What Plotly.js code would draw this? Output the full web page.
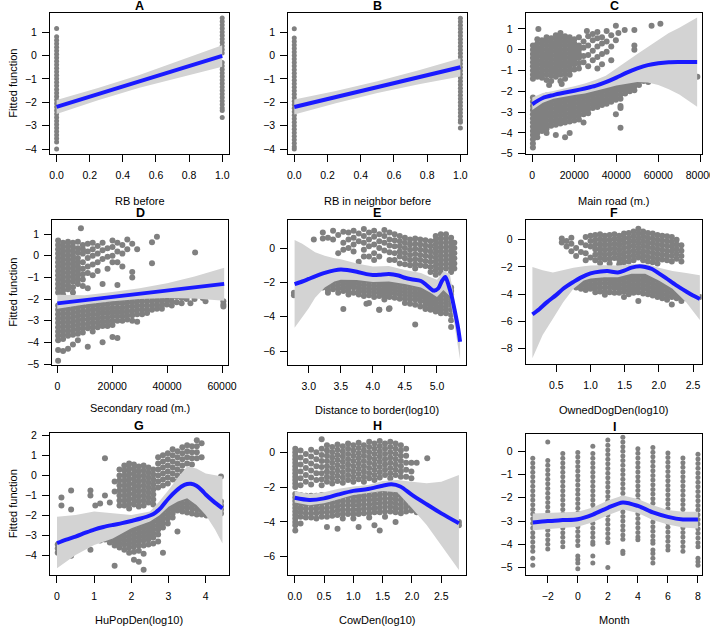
<!DOCTYPE html>
<html><head><meta charset="utf-8">
<script src="https://cdn.plot.ly/plotly-3.0.1.min.js"></script>
<style>html,body{margin:0;padding:0;background:#fff}#g{width:710px;height:628px}</style>
</head><body><div id="g"></div>
<script>
// ---------- DATA ----------
// Panel A: RB before (points at 0 and 1)
const A_y0 = [1.15,0.8,0.65,0.5,0.35,0.2,0.05,-0.1,-0.25,-0.4,-0.55,-0.7,-0.85,-1.0,-1.15,-1.3,-1.45,-1.6,-1.75,-1.9,-2.05,-2.2,-2.35,-2.5,-2.65,-2.8,-2.95,-3.1,-3.25,-3.4,-3.55,-3.7,-4.0];
const A_y1 = [1.6,1.45,1.3,1.15,1.0,0.85,0.7,0.55,0.4,0.25,0.1,-0.3,-0.45,-0.6,-0.75,-0.9,-1.05,-1.2,-1.35,-1.5,-1.65,-1.8,-1.95,-2.1,-2.25,-2.35,-2.65];
const A_lineX = [0,1], A_lineY = [-2.2,-0.02];
const A_bandX = [0,0.25,0.5,0.75,1], A_bandLo = [-2.5,-1.915,-1.38,-0.915,-0.48], A_bandHi = [-1.9,-1.395,-0.84,-0.215,0.44];

// Panel B: RB in neighbor before
const B_y0 = [1.15,0.75,0.6,0.45,0.3,0.15,0.0,-0.15,-0.3,-0.45,-0.6,-0.75,-0.9,-1.05,-1.2,-1.35,-1.5,-1.65,-1.8,-1.95,-2.1,-2.25,-2.4,-2.55,-2.7,-2.85,-3.0,-3.15,-3.3,-3.45,-3.6,-3.75,-3.9,-4.0];
const B_y1 = [1.6,1.45,1.3,1.15,1.0,0.85,0.7,0.55,0.4,0.25,0.1,-0.05,-0.2,-0.35,-0.5,-0.65,-0.8,-0.95,-1.1,-1.25,-1.4,-1.55,-1.7,-1.85,-2.0,-2.15,-2.3,-2.45,-2.6,-2.75,-2.85,-3.1];
const B_lineX = [0,1], B_lineY = [-2.2,-0.5];
const B_bandX = [0,0.25,0.5,0.75,1], B_bandLo = [-2.52,-2.035,-1.6,-1.225,-0.89], B_bandHi = [-1.88,-1.515,-1.1,-0.625,-0.11];

// Panel C: Main road (m.)  x in thousands of metres
const C_colX = [0.3,2.4,4.6,6.8,9.0,11.2,13.4,15.6,17.8,20.0,22.2,24.4,26.6,28.8,31.0,33.2,35.4,37.6,39.8,42.0,44.2,46.4,48.6,50.8,53.0,55.2,57.4];
const C_colY = [
[0.2,0,-0.2,-0.4,-0.6,-0.8,-1.0,-1.2,-1.4,-2.3,-2.5,-2.7,-2.9,-3.1,-3.3,-3.5,-3.7,-3.9,-4.1,-4.3,-4.5,-4.7],
[0.5,0.3,0.1,-0.1,-0.3,-0.5,-0.7,-0.9,-1.1,-1.3,-2.4,-2.6,-2.8,-3.0,-3.2,-3.4,-3.6,-3.8,-4.0,-4.2],
[0.45,0.25,0.05,-0.15,-0.35,-0.55,-0.75,-0.95,-1.15,-1.35,-2.3,-2.5,-2.7,-2.9,-3.1,-3.3,-3.5,-3.7,-3.9],
[0.6,0.4,0.2,0,-0.2,-0.4,-0.6,-0.8,-1.0,-1.2,-1.45,-2.2,-2.4,-2.6,-2.8,-3.0,-3.2,-3.4,-3.6,-3.8,-4.0],
[0.55,0.35,0.15,-0.05,-0.25,-0.45,-0.65,-0.85,-1.05,-1.25,-1.5,-2.25,-2.45,-2.65,-2.85,-3.05,-3.25,-3.45,-3.65],
[0.7,0.5,0.3,0.1,-0.1,-0.3,-0.5,-0.7,-0.9,-1.1,-1.3,-2.2,-2.4,-2.6,-2.8,-3.0,-3.2,-3.4,-3.6,-4.1],
[0.8,0.6,0.4,0.2,0,-0.2,-0.4,-0.6,-0.8,-1.0,-1.2,-1.5,-2.15,-2.35,-2.55,-2.75,-2.95,-3.15,-3.35,-3.55],
[0.65,0.45,0.25,0.05,-0.15,-0.35,-0.55,-0.75,-0.95,-1.15,-1.4,-2.1,-2.3,-2.5,-2.7,-2.9,-3.1,-3.3,-3.5,-4.2],
[0.6,0.4,0.2,0,-0.2,-0.4,-0.6,-0.8,-1.0,-1.2,-2.05,-2.25,-2.45,-2.65,-2.85,-3.05,-3.25,-3.45,-4.0],
[0.5,0.3,0.1,-0.1,-0.3,-0.5,-0.7,-0.95,-2.0,-2.2,-2.4,-2.6,-2.8,-3.0,-3.2,-3.4],
[0.6,0.2,0,-0.2,-0.4,-0.65,-0.9,-1.95,-2.15,-2.35,-2.55,-2.75,-2.95,-3.15,-3.35],
[0.4,0.1,-0.3,-0.6,-1.9,-2.1,-2.3,-2.5,-2.7,-2.9,-3.1,-3.5],
[0.65,0.2,-0.25,-0.8,-1.85,-2.05,-2.25,-2.45,-2.65,-2.85,-3.05],
[0.75,0.45,-0.05,-0.5,-1.8,-2.0,-2.2,-2.4,-2.6,-2.8],
[0.85,0.55,0.15,-0.35,-0.9,-1.75,-1.95,-2.15,-2.35,-2.55,-2.75],
[0.6,0.3,-0.2,-0.7,-1.65,-1.85,-2.05,-2.25,-2.45,-2.65],
[0.9,0.4,-0.1,-1.6,-1.8,-2.0,-2.2,-2.4,-2.6],
[0.7,0.15,-0.5,-1.5,-1.7,-1.9,-2.1,-2.3,-2.5],
[1.15,0.45,-1.4,-1.6,-1.8,-2.0,-2.2,-2.4,-3.1],
[-1.35,-1.55,-1.75,-1.95,-2.15,-2.35,-2.7,-2.8,-3.75],
[-1.3,-1.5,-1.7,-1.9,-2.1],
[-1.2,-1.4,-1.6,-1.8,-2.0],
[0.95,0.2,0.0,-1.15,-1.35,-1.55,-1.75,-1.95],
[-1.1,-1.3,-1.5,-1.7],
[-1.1,-1.3,-1.5],
[-1.15,-1.35,-1.55],
[-1.2,-1.45]];
const C_extra = [2.9,1.0, 56.8,1.15, 61,1.25, 60.5,-1.45, 62.5,-0.9, 64,-1.45, 72.8,0.4, 72.8,0.02, 75.5,-1.6, 78.6,-1.3, 26,0.9, 44,0.95, 41,0.8, 14,-1.65, 8,-1.7];
const C_lineX = [0,5,10,15,20,25,30,35,40,45,50,55,60,65,70,78.5];
const C_lineY = [-2.62,-2.32,-2.18,-2.07,-1.97,-1.86,-1.74,-1.56,-1.34,-1.1,-0.9,-0.74,-0.65,-0.6,-0.59,-0.59];
const C_bandLo = [-2.9,-2.55,-2.36,-2.25,-2.17,-2.1,-1.98,-1.85,-1.72,-1.62,-1.55,-1.58,-1.7,-1.9,-2.15,-2.74];
const C_bandHi = [-2.3,-2.08,-1.98,-1.88,-1.76,-1.62,-1.46,-1.25,-0.92,-0.55,-0.2,0.15,0.47,0.8,1.05,1.55];

// Panel D: Secondary road (m.)  x in thousands of metres
const D_colX = [0.3,2.1,3.9,5.7,7.5,9.3,11.1,12.9,14.7,16.5,18.3,20.1,21.9,23.7,25.5,27.3,29.1,30.9,32.7,34.5,36.3,38.1,39.9,41.7,43.5,45.3,47.1];
const D_colY = [
[0.7,0.5,0.3,0.1,-0.1,-0.3,-0.5,-0.7,-0.9,-1.1,-1.3,-1.5,-1.7,-2.3,-2.5,-2.7,-2.9,-3.1,-3.3,-3.5,-3.7,-3.9,-4.35,-4.85],
[0.6,0.4,0.2,0,-0.2,-0.4,-0.6,-0.8,-1.0,-1.2,-1.4,-1.6,-1.8,-2.25,-2.45,-2.65,-2.85,-3.05,-3.25,-3.45,-3.65,-3.85,-4.4],
[0.65,0.45,0.25,0.05,-0.15,-0.35,-0.55,-0.75,-0.95,-1.15,-1.35,-1.55,-2.3,-2.5,-2.7,-2.9,-3.1,-3.3,-3.5,-3.7,-4.3],
[0.6,0.4,0.2,0,-0.2,-0.4,-0.6,-0.8,-1.0,-1.2,-1.45,-1.7,-2.25,-2.45,-2.65,-2.85,-3.05,-3.25,-3.45,-3.65,-4.1],
[0.65,0.35,0.15,-0.1,-0.3,-0.5,-0.7,-0.9,-1.1,-1.3,-2.2,-2.4,-2.6,-2.8,-3.0,-3.2,-3.4,-3.6,-3.9],
[0.5,0.3,0.1,-0.3,-0.6,-0.85,-1.1,-1.4,-2.15,-2.35,-2.55,-2.75,-2.95,-3.15,-3.35,-3.55],
[0.55,0.2,-0.1,-0.5,-0.8,-1.5,-2.15,-2.35,-2.55,-2.75,-2.95,-3.15,-3.35,-4.2],
[0.6,0.3,0,-0.4,-0.9,-2.1,-2.3,-2.5,-2.7,-2.9,-3.1,-3.3,-3.5],
[0.45,0.1,-0.3,-0.7,-2.1,-2.3,-2.5,-2.7,-2.9,-3.1,-3.3],
[0.6,0.25,-0.15,-1.3,-2.05,-2.25,-2.45,-2.65,-2.85,-3.05,-3.25,-4.0],
[0.35,-0.05,-0.6,-2.05,-2.25,-2.45,-2.65,-2.85,-3.05,-3.25],
[0.7,0.4,0.0,-0.3,-2.0,-2.2,-2.4,-2.6,-2.8,-3.0,-3.2,-3.75],
[0.6,0.2,-0.3,-1.35,-2.0,-2.2,-2.4,-2.6,-2.8,-3.0,-3.8],
[0.5,0.1,-0.5,-2.0,-2.2,-2.4,-2.6,-2.8,-3.0],
[0.75,0.3,-1.95,-2.15,-2.35,-2.55,-2.75,-2.95],
[0.55,-0.75,-1.0,-1.95,-2.15,-2.35,-2.55,-2.75,-3.0],
[0.3,-1.9,-2.1,-2.3,-2.5,-2.7,-3.05],
[-1.9,-2.1,-2.3,-2.5,-2.7],
[-1.9,-2.1,-2.3,-2.5,-2.65],
[0.62,-0.35,-1.9,-2.1,-2.3,-2.5],
[0.88,-1.85,-2.05,-2.25,-2.45],
[-1.9,-2.1,-2.3,-2.45],
[-1.85,-2.05,-2.25],
[-1.9,-2.1,-2.3],
[-1.9,-2.15],
[-1.95,-2.2],
[-2.0]];
const D_extra = [8.6,1.27, 50.2,0.15, 50,-2.0, 53,-1.95, 54,-2.1, 60.5,-2.1, 60.5,-2.25, 60.5,-2.35, 58,-1.85, 48.5,-2.2];
const D_lineX = [0,60.8], D_lineY = [-2.2,-1.3];
const D_bandX = [0,10,20,30,40,50,60.8];
const D_bandLo = [-2.45,-2.25,-2.1,-2.0,-1.95,-1.98,-2.08];
const D_bandHi = [-1.8,-1.82,-1.68,-1.5,-1.27,-0.96,-0.55];

// Panel E: Distance to border(log10)
const E_colX = [3.22,3.30,3.38,3.46,3.54,3.62,3.70,3.78,3.86,3.94,4.02,4.10,4.18,4.26,4.34,4.42,4.50,4.58,4.66,4.74,4.82,4.90,4.98,5.06,5.14,5.22,5.27];
const E_colY = [
[0.9,0.55,-1.9,-2.1,-2.3],
[0.6,-1.85,-2.05,-2.25,-2.45],
[1.0,0.5,-1.8,-2.0,-2.2,-2.4],
[0.75,-0.3,-1.75,-1.95,-2.15,-2.35,-2.6],
[0.95,0.3,-0.1,-1.7,-1.9,-2.1,-2.3,-2.5,-3.55],
[0.9,0.5,0.0,-1.7,-1.9,-2.1,-2.3,-2.5,-2.7],
[1.0,0.6,0.2,-0.2,-1.7,-1.9,-2.1,-2.3,-2.6],
[0.85,0.4,-0.8,-1.7,-1.9,-2.1,-2.3,-2.5,-2.7],
[1.1,0.7,0.3,-0.1,-0.5,-1.75,-1.95,-2.15,-2.35,-2.55,-2.8],
[0.9,0.5,0.1,-0.5,-1.75,-1.95,-2.15,-2.35,-2.55,-2.75,-3.2],
[1.0,0.65,0.2,-0.3,-0.7,-1.8,-2.0,-2.2,-2.4,-2.6,-2.85],
[0.8,0.4,0.0,-0.5,-1.8,-2.0,-2.2,-2.4,-2.6,-2.8,-3.6],
[1.05,0.7,0.3,-0.15,-1.8,-2.0,-2.2,-2.4,-2.6,-2.8,-3.0],
[0.9,0.5,0.15,-0.25,-0.7,-1.85,-2.05,-2.25,-2.45,-2.65,-2.85,-3.5],
[0.8,0.45,0.1,-0.3,-0.7,-1.85,-2.05,-2.25,-2.45,-2.65,-2.9],
[0.7,0.4,0.1,-0.2,-0.5,-0.9,-1.9,-2.1,-2.3,-2.5,-2.7,-2.95],
[0.6,0.3,0.0,-0.3,-0.6,-0.95,-1.95,-2.15,-2.35,-2.55,-2.75,-2.95,-3.2],
[0.5,0.2,-0.1,-0.4,-0.7,-1.0,-2.0,-2.2,-2.4,-2.6,-2.8,-3.0,-3.25],
[0.55,0.25,-0.05,-0.35,-0.65,-0.95,-1.2,-2.0,-2.2,-2.4,-2.6,-2.8,-3.0,-3.3,-4.45],
[0.5,0.2,-0.1,-0.4,-0.7,-1.0,-2.1,-2.3,-2.5,-2.7,-2.9,-3.1,-3.4],
[0.45,0.15,-0.15,-0.45,-0.75,-1.05,-2.3,-2.5,-2.7,-2.9,-3.1,-3.3,-3.55],
[0.4,0.1,-0.2,-0.5,-0.8,-1.1,-1.4,-2.6,-2.8,-3.0,-3.2,-3.4,-3.6],
[0.7,0.45,0.2,-0.05,-0.3,-0.55,-0.8,-1.05,-1.3,-1.55,-2.7,-2.9,-3.1,-3.3,-3.5,-3.7],
[0.8,0.55,0.3,0.05,-0.2,-0.45,-0.7,-0.95,-1.2,-1.45,-2.4,-2.6,-2.8,-3.0,-3.2,-3.4,-3.6,-3.8],
[0.8,0.55,0.3,0.05,-0.2,-0.45,-0.7,-0.95,-1.2,-2.2,-2.4,-2.6,-2.8,-3.0,-3.2,-3.4,-3.6,-3.8],
[0.6,0.35,0.1,-0.15,-0.4,-0.65,-0.9,-1.15,-1.4,-2.3,-2.5,-2.7,-2.9,-3.1,-3.3,-3.6,-3.9,-4.2,-4.6],
[0.3,0.0,-0.3,-0.6,-0.9,-1.2]];
const E_extra = [2.77,-2.6, 2.77,-2.75, 2.9,-2.3, 3.05,-2.3, 3.15,-2.0, 3.08,0.5, 3.3,-2.6, 3.9,-3.25, 4.25,-3.55, 4.1,-3.6];
const E_lineX = [2.78,2.9,3.0,3.1,3.25,3.4,3.5,3.6,3.75,3.9,4.0,4.1,4.25,4.4,4.5,4.6,4.75,4.85,4.95,5.02,5.08,5.13,5.18,5.23,5.28,5.33,5.36];
const E_lineY = [-2.1,-1.95,-1.8,-1.65,-1.45,-1.3,-1.25,-1.28,-1.38,-1.52,-1.57,-1.56,-1.51,-1.6,-1.73,-1.82,-1.92,-2.2,-2.48,-2.35,-1.9,-1.68,-2.16,-2.83,-3.71,-4.68,-5.46];
const E_bandX = [2.78,2.9,3.0,3.1,3.25,3.4,3.5,3.75,4.0,4.25,4.5,4.75,4.9,5.0,5.1,5.2,5.3,5.36];
const E_bandHi = [0.47,0.25,0.0,-0.25,-0.45,-0.6,-0.65,-0.9,-1.08,-1.05,-1.28,-1.45,-1.7,-1.85,-1.35,-1.5,-3.6,-5.2];
const E_bandLo = [-4.64,-4.0,-3.5,-2.9,-2.3,-1.95,-1.85,-1.86,-1.98,-1.95,-2.1,-2.3,-2.6,-2.85,-2.45,-2.8,-5.2,-6.5];

// Panel F: OwnedDogDen(log10)
const F_colX = [0.58,0.65,0.72,0.79,0.86,0.93,1.00,1.07,1.14,1.21,1.28,1.35,1.42,1.49,1.56,1.63,1.70,1.77,1.84,1.91,1.98,2.05,2.12,2.19,2.26,2.33,2.40,2.47,2.54,2.60];
const F_colY = [
[0.1,-0.2],
[-0.5,-0.1],
[-0.85,-0.3,0.15],
[-0.6,-1.2,-3.2,-3.5],
[-0.2,-0.9,-3.0,-3.3,-3.6],
[0.2,-0.4,-1.0,-1.5,-2.8,-3.1,-3.4,-3.7],
[0.3,-0.1,-0.5,-1.3,-2.7,-3.0,-3.3,-3.6],
[0.35,0.0,-0.35,-0.7,-1.1,-1.5,-2.65,-2.95,-3.25,-3.55,-3.85],
[0.4,0.05,-0.3,-0.65,-1.0,-1.35,-1.7,-2.6,-2.9,-3.2,-3.5,-3.8],
[0.3,-0.05,-0.4,-0.75,-1.1,-1.45,-2.6,-2.9,-3.2,-3.5,-3.8,-4.05],
[0.35,0.0,-0.35,-0.7,-1.05,-1.4,-1.75,-2.6,-2.9,-3.2,-3.5,-3.85],
[0.4,0.05,-0.3,-0.65,-1.0,-1.35,-2.65,-2.95,-3.25,-3.55,-3.9],
[0.3,-0.05,-0.4,-0.75,-1.1,-1.45,-1.8,-2.7,-3.0,-3.3,-3.6,-3.9],
[0.45,0.1,-0.25,-0.6,-0.95,-1.3,-1.65,-2.6,-2.9,-3.2,-3.5,-3.8,-4.2],
[0.5,0.15,-0.2,-0.55,-0.9,-1.25,-1.6,-2.5,-2.8,-3.1,-3.4,-3.7,-4.0],
[0.6,0.25,-0.1,-0.45,-0.8,-1.15,-1.5,-2.4,-2.7,-3.0,-3.3,-3.6,-3.9],
[0.8,0.45,0.1,-0.25,-0.6,-0.95,-1.3,-2.35,-2.65,-2.95,-3.25,-3.55,-3.85,-4.5],
[0.6,0.25,-0.1,-0.45,-0.8,-1.15,-1.5,-2.4,-2.7,-3.0,-3.3,-3.6,-3.95],
[0.5,0.15,-0.2,-0.55,-0.9,-1.25,-1.6,-2.5,-2.8,-3.1,-3.4,-3.7,-4.0],
[0.45,0.1,-0.25,-0.6,-0.95,-1.3,-1.65,-2.6,-2.9,-3.2,-3.5,-3.8,-4.1],
[0.35,0.0,-0.35,-0.7,-1.05,-1.4,-1.75,-2.7,-3.0,-3.3,-3.6,-3.9,-4.2],
[0.3,-0.05,-0.4,-0.75,-1.1,-1.45,-2.8,-3.1,-3.4,-3.7,-4.0,-4.3],
[0.25,-0.1,-0.45,-0.8,-1.15,-1.5,-2.9,-3.2,-3.5,-3.8,-4.1,-4.4],
[0.2,-0.15,-0.5,-0.85,-1.2,-1.6,-3.0,-3.3,-3.6,-3.9,-4.2,-4.75],
[0.0,-0.35,-0.7,-1.05,-1.4,-3.1,-3.4,-3.7,-4.0,-4.3],
[-0.4,-0.8,-1.2,-1.6,-3.3,-3.6,-3.9,-4.2,-4.5],
[-3.4,-3.7,-4.0,-4.3],
[-3.6,-3.9,-4.2],
[-3.8,-4.1],
[-4.2]];
const F_lineX = [0.15,0.25,0.36,0.5,0.6,0.75,0.85,1.0,1.15,1.25,1.4,1.5,1.6,1.72,1.8,1.9,2.0,2.1,2.25,2.4,2.5,2.6];
const F_lineY = [-5.48,-5.1,-4.6,-4.05,-3.6,-3.1,-2.8,-2.47,-2.33,-2.3,-2.4,-2.25,-2.05,-1.95,-2.0,-2.15,-2.47,-2.8,-3.33,-3.8,-4.1,-4.35];
const F_bandX = [0.15,0.3,0.45,0.6,0.75,0.9,1.0,1.2,1.4,1.6,1.8,2.0,2.2,2.4,2.6];
const F_bandHi = [-2.0,-2.25,-2.4,-2.2,-2.05,-1.95,-1.9,-1.87,-1.9,-1.8,-1.75,-2.05,-2.3,-2.45,-2.6];
const F_bandLo = [-8.7,-7.0,-5.8,-4.6,-3.6,-3.0,-2.85,-2.75,-2.75,-2.5,-2.5,-3.0,-3.6,-4.6,-5.9];

// Panel G: HuPopDen(log10)
const G_colX = [0.02,0.12,0.25,0.38,0.51,0.64,0.77,0.90,1.03,1.16,1.29,1.42,1.55,1.68,1.81,1.94,2.07,2.20,2.33,2.46,2.59,2.72,2.85,2.98,3.11,3.24,3.37,3.50,3.63,3.76,3.89,4.02,4.15,4.28,4.41];
const G_colY = [
[-3.45,-3.65,-3.85],
[-3.4,-3.6,-3.8,-1.1,-1.5],
[-3.3,-3.5,-3.7],
[-3.2,-3.4,-3.6,-0.75,-1.7,-4.0],
[-3.15,-3.35,-3.55],
[-3.0,-3.2,-3.4],
[-2.95,-3.15,-3.35],
[-2.85,-3.05,-3.25,-3.7,-0.75,-1.0],
[-2.75,-2.95,-3.15,-1.5],
[-2.65,-2.85,-3.05,-3.25,-1.4],
[-2.6,-2.8,-3.0,-3.2,0.85,-1.0],
[-2.55,-2.75,-2.95,-3.15,-3.35,-1.35],
[-2.5,-2.7,-2.9,-3.1,-3.3,-3.5,-0.3,-0.8,-4.5],
[0.3,0.0,-0.25,-0.5,-0.75,-1.0,-1.25,-1.5,-2.4,-2.6,-2.8,-3.0,-3.2,-3.4,-3.6],
[0.5,0.25,0.0,-0.25,-0.5,-0.75,-1.0,-1.25,-1.5,-2.45,-2.65,-2.85,-3.05,-3.25,-3.45,-3.7],
[0.6,0.35,0.1,-0.15,-0.4,-0.65,-0.9,-1.15,-1.4,-1.65,-2.4,-2.6,-2.8,-3.0,-3.2,-3.4,-3.6,-3.85],
[0.55,0.3,0.05,-0.2,-0.45,-0.7,-0.95,-1.2,-1.45,-2.35,-2.55,-2.75,-2.95,-3.15,-3.35,-3.55,-3.8,-4.2],
[0.45,0.2,-0.05,-0.3,-0.55,-0.8,-1.05,-1.3,-1.55,-2.3,-2.5,-2.7,-2.9,-3.1,-3.3,-3.5,-3.75,-4.3],
[0.5,0.25,0.0,-0.25,-0.5,-0.75,-1.0,-1.25,-1.5,-2.25,-2.45,-2.65,-2.85,-3.05,-3.25,-3.5,-3.9,-4.7],
[0.4,0.15,-0.1,-0.35,-0.6,-0.85,-1.1,-1.35,-2.2,-2.4,-2.6,-2.8,-3.0,-3.2,-3.45],
[0.3,0.05,-0.2,-0.45,-0.7,-0.95,-1.2,-1.45,-2.1,-2.3,-2.5,-2.7,-2.9,-3.1,-3.4],
[0.9,0.6,0.3,0.0,-0.3,-0.6,-1.9,-2.1,-2.3,-2.5,-2.7,-2.95,-3.3],
[1.0,0.7,0.4,0.1,-0.2,-0.5,-1.6,-1.8,-2.0,-2.2,-2.4,-2.6,-3.85],
[1.1,0.8,0.5,0.2,-0.1,-0.4,-1.35,-1.55,-1.75,-1.95,-2.15,-2.4],
[1.3,1.0,0.7,0.4,0.1,-0.2,-1.1,-1.3,-1.5,-1.7,-1.9,-2.1],
[1.2,0.9,0.6,0.3,0.0,-0.3,-0.95,-1.15,-1.35,-1.55,-1.75,-2.8],
[1.4,1.1,0.8,0.5,0.2,-1.2,-1.4,-1.6,-1.8],
[1.5,1.2,0.9,0.6,-1.2,-1.4,-1.6,-1.85],
[1.45,1.15,0.85,0.55,-1.25,-1.45,-1.65,-1.9],
[1.75,1.45,1.15,0.85,-1.3,-1.5,-1.7,-1.95],
[1.6,0.9,-1.35,-1.55,-1.75,-1.95],
[-1.4,-1.6,-1.8,-2.0],
[-1.3,-1.5,-1.7,-1.9],
[-1.2,-1.4,-1.6,-1.8],
[-1.3,-1.5,-1.7,-1.9,-0.05]];
const G_lineX = [0,0.25,0.5,0.75,1.0,1.25,1.5,1.75,2.0,2.25,2.5,2.65,2.8,3.0,3.2,3.35,3.5,3.6,3.75,3.9,4.0,4.2,4.45];
const G_lineY = [-3.38,-3.2,-3.05,-2.87,-2.7,-2.57,-2.47,-2.38,-2.27,-2.15,-2.0,-1.85,-1.6,-1.15,-0.78,-0.55,-0.43,-0.42,-0.52,-0.75,-0.95,-1.28,-1.64];
const G_bandX = [0,0.5,1.0,1.5,2.0,2.5,2.75,3.0,3.25,3.5,3.75,4.0,4.25,4.45];
const G_bandHi = [-2.06,-1.97,-1.8,-1.89,-1.97,-1.8,-1.3,-0.73,-0.1,0.44,0.35,0.1,0.0,-0.05];
const G_bandLo = [-4.63,-3.97,-3.47,-3.14,-2.64,-2.3,-2.0,-1.56,-1.3,-1.14,-1.47,-1.97,-2.7,-3.4];

// Panel H: CowDen(log10)
const H_colX = [0.01,0.10,0.19,0.28,0.37,0.46,0.55,0.64,0.73,0.82,0.91,1.00,1.09,1.18,1.27,1.36,1.45,1.54,1.63,1.72,1.81,1.90,1.99,2.08,2.17,2.26,2.35,2.44,2.53,2.62,2.71,2.80];
const H_colY = [
[0.2,0.0,-0.2,-0.4,-0.6,-0.8,-1.0,-1.2,-1.4,-1.6,-1.8,-2.0,-2.4,-2.6,-2.8,-3.0,-3.2,-3.4,-3.6,-3.8,-4.0,-4.2,-4.5],
[0.1,-0.3,-0.7,-1.1,-1.5,-1.9,-2.45,-2.7,-2.95,-3.2,-3.45,-3.7,-4.1],
[-0.1,-0.5,-0.9,-1.3,-1.7,-2.5,-2.75,-3.0,-3.25,-3.5,-3.75],
[0.15,-0.25,-0.65,-1.05,-1.45,-1.85,-2.5,-2.75,-3.0,-3.25,-3.5,-3.75],
[0.0,-0.4,-0.8,-1.2,-1.6,-2.5,-2.75,-3.0,-3.25,-3.5,-3.8],
[0.75,0.2,-0.15,-0.5,-0.85,-1.2,-1.55,-1.9,-2.45,-2.7,-2.95,-3.2,-3.45,-3.7],
[0.4,0.1,-0.2,-0.5,-0.8,-1.1,-1.4,-1.7,-2.45,-2.7,-2.95,-3.2,-3.45,-3.7,-4.3],
[0.3,0.0,-0.3,-0.6,-0.9,-1.2,-1.5,-1.8,-2.4,-2.65,-2.9,-3.15,-3.4,-3.65],
[0.45,0.15,-0.15,-0.45,-0.75,-1.05,-1.35,-1.65,-2.35,-2.6,-2.85,-3.1,-3.35,-3.6,-4.4],
[0.35,0.05,-0.25,-0.55,-0.85,-1.15,-1.45,-1.75,-2.3,-2.55,-2.8,-3.05,-3.3,-3.55,-3.8],
[0.5,0.2,-0.1,-0.4,-0.7,-1.0,-1.3,-1.6,-2.3,-2.55,-2.8,-3.05,-3.3,-3.55],
[0.4,0.1,-0.2,-0.5,-0.8,-1.1,-1.4,-1.7,-2.3,-2.55,-2.8,-3.05,-3.3,-3.55,-3.8],
[0.55,0.25,-0.05,-0.35,-0.65,-0.95,-1.25,-1.55,-2.3,-2.55,-2.8,-3.05,-3.3,-3.55,-4.3],
[0.4,0.1,-0.2,-0.5,-0.8,-1.1,-1.4,-1.7,-2.25,-2.5,-2.75,-3.0,-3.25,-3.5],
[0.6,0.3,0.0,-0.3,-0.6,-0.9,-1.2,-1.5,-2.25,-2.5,-2.75,-3.0,-3.25,-3.5,-3.75],
[0.5,0.2,-0.1,-0.4,-0.7,-1.0,-1.3,-1.6,-2.2,-2.45,-2.7,-2.95,-3.2,-3.45,-4.2],
[0.65,0.35,0.05,-0.25,-0.55,-0.85,-1.15,-1.45,-2.2,-2.45,-2.7,-2.95,-3.2,-3.45,-4.5],
[0.5,0.2,-0.1,-0.4,-0.7,-1.0,-1.3,-2.15,-2.4,-2.65,-2.9,-3.15,-3.4,-3.7],
[0.6,0.3,0.0,-0.3,-0.6,-0.9,-1.2,-1.5,-2.15,-2.4,-2.65,-2.9,-3.15,-3.4],
[0.5,0.2,-0.1,-0.4,-0.7,-1.0,-1.3,-2.2,-2.45,-2.7,-2.95,-3.2,-3.45,-4.0],
[0.4,0.1,-0.2,-0.5,-0.8,-1.1,-1.4,-2.25,-2.5,-2.75,-3.0,-3.25,-3.5],
[0.2,-0.2,-0.6,-1.0,-1.4,-2.4,-2.65,-2.9,-3.15,-3.4],
[-0.6,-1.1,-1.5,-2.6,-2.85,-3.1,-3.35],
[-0.6,-2.7,-2.95,-3.2,-3.45],
[-2.8,-3.05,-3.3,-3.55],
[-0.35,-2.9,-3.15,-3.4],
[-3.1,-3.35,-3.6],
[-3.2,-3.45],
[-3.4,-3.7],
[-3.6,-3.85],
[-3.75,-4.0],
[-4.0,-4.2]];
const H_lineX = [0,0.25,0.5,0.75,1.0,1.25,1.5,1.65,1.8,2.0,2.25,2.5,2.8];
const H_lineY = [-2.61,-2.74,-2.65,-2.42,-2.22,-2.11,-1.92,-1.84,-1.97,-2.45,-2.99,-3.51,-4.08];
const H_bandX = [0,0.25,0.5,0.75,1.0,1.25,1.5,1.75,2.0,2.25,2.5,2.8];
const H_bandHi = [-2.22,-2.4,-2.3,-2.1,-1.97,-1.88,-1.65,-1.6,-1.69,-1.78,-1.69,-1.3];
const H_bandLo = [-2.88,-3.05,-2.93,-2.7,-2.45,-2.35,-2.22,-2.3,-3.22,-4.18,-5.33,-6.77];

// Panel I: Month
const I_months = [-3,-2,-1,0,1,2,3,4,5,6,7,8];
const I_colY = [
[-0.3,-0.5,-0.7,-0.9,-1.1,-1.3,-1.5,-1.7,-1.9,-2.1,-2.3,-2.5,-2.7,-2.9,-3.1,-3.3,-3.5,-3.7,-3.9,-4.1,-4.3,-4.6,-4.9],
[0.4,-0.4,-0.6,-0.8,-1.0,-1.2,-1.4,-1.6,-1.8,-2.0,-2.2,-2.4,-2.6,-2.8,-3.0,-3.2,-3.4,-3.6,-3.8,-4.0,-4.2],
[-0.1,-0.3,-0.5,-0.7,-0.9,-1.1,-1.3,-1.5,-1.7,-1.9,-2.1,-2.3,-2.5,-2.7,-2.9,-3.1,-3.3,-3.5,-3.7,-3.9,-4.1],
[-0.05,-0.25,-0.45,-0.65,-0.85,-1.05,-1.25,-1.45,-1.65,-1.85,-2.05,-2.25,-2.45,-2.65,-2.85,-3.05,-3.25,-3.45,-3.65,-3.85,-4.05,-4.5,-4.65,-4.8,-5.05],
[0.22,-0.1,-0.3,-0.5,-0.7,-0.9,-1.1,-1.3,-1.5,-1.7,-1.9,-2.1,-2.3,-2.5,-2.7,-2.9,-3.1,-3.3,-3.5,-3.7,-3.9,-4.0,-4.5,-4.8],
[0.48,0.26,0.06,-0.14,-0.34,-0.54,-0.74,-0.94,-1.14,-1.34,-1.54,-1.74,-1.94,-2.14,-2.34,-2.54,-2.74,-2.94,-3.14,-3.34,-3.54,-3.74,-3.92,-5.0],
[0.6,0.4,0.2,0.0,-0.2,-0.4,-0.6,-0.8,-1.0,-1.2,-1.4,-1.6,-1.8,-2.0,-2.2,-2.4,-2.6,-2.8,-3.0,-3.2,-3.4,-3.6,-3.78,-4.3,-4.4],
[0.11,-0.09,-0.29,-0.49,-0.69,-0.89,-1.09,-1.29,-1.49,-1.69,-1.89,-2.09,-2.29,-2.49,-2.69,-2.89,-3.09,-3.29,-3.49,-3.69,-3.8],
[0.16,-0.04,-0.24,-0.44,-0.64,-0.84,-1.04,-1.24,-1.44,-1.64,-1.84,-2.04,-2.24,-2.44,-2.64,-2.84,-3.04,-3.24,-3.44,-3.64,-3.84,-3.95,-4.25,-4.4,-4.6,-4.8],
[-0.07,-0.27,-0.47,-0.67,-0.87,-1.07,-1.27,-1.47,-1.67,-1.87,-2.07,-2.27,-2.47,-2.67,-2.87,-3.07,-3.27,-3.47,-3.67,-3.87,-4.07,-4.25],
[-0.29,-0.49,-0.69,-0.89,-1.09,-1.29,-1.49,-1.69,-1.89,-2.09,-2.29,-2.49,-2.69,-2.89,-3.09,-3.29,-3.49,-3.69,-3.89,-4.09,-4.3],
[-0.13,-0.33,-0.53,-0.73,-0.93,-1.13,-1.33,-1.53,-1.73,-1.93,-2.13,-2.33,-2.53,-2.73,-2.93,-3.13,-3.33,-3.53,-3.73,-3.93,-4.1,-4.6,-4.75,-4.9]];
const I_lineY = [-3.06,-3.0,-2.96,-2.92,-2.72,-2.43,-2.2,-2.35,-2.63,-2.82,-2.93,-2.93];
const I_bandHi = [-2.68,-2.65,-2.63,-2.6,-2.42,-2.12,-1.9,-2.05,-2.32,-2.52,-2.6,-2.6];
const I_bandLo = [-3.4,-3.35,-3.3,-3.25,-3.05,-2.75,-2.5,-2.65,-2.95,-3.15,-3.28,-3.32];

// ---------- BUILD ----------
const W = 710, H = 628;
const PT = '#808080', BAND = '#d3d3d3', LINE = '#1a1aff';
const FONT = 'Liberation Sans, Arial, Helvetica, sans-serif';

function cols(xs, ys, s){ s = s||1; const X=[],Y=[]; xs.forEach((x,i)=>ys[i].forEach(y=>{X.push(x*s);Y.push(y);})); return [X,Y]; }
function pairs(p, s){ s = s||1; const X=[],Y=[]; for(let i=0;i<p.length;i+=2){X.push(p[i]*s);Y.push(p[i+1]);} return [X,Y]; }
function merge(a,b){ return [a[0].concat(b[0]), a[1].concat(b[1])]; }
const sc = v => v*1000;

const panels = [
 {id:'A', box:[50,229,13.3,154], xr:[-0.040,1.041], yr:[-4.21,1.80], xt:[0,0.2,0.4,0.6,0.8,1.0], xd:1, yt:[1,0,-1,-2,-3,-4], ms:5,
  pts: cols([0,1],[A_y0,A_y1]), band:[A_bandX,A_bandLo,A_bandHi], line:[A_lineX,A_lineY], xl:'RB before', xly:201, yl:true},
 {id:'B', box:[288.3,466.7,13.3,154], xr:[-0.036,1.038], yr:[-4.21,1.81], xt:[0,0.2,0.4,0.6,0.8,1.0], xd:1, yt:[1,0,-1,-2,-3,-4], ms:5,
  pts: cols([0,1],[B_y0,B_y1]), band:[B_bandX,B_bandLo,B_bandHi], line:[B_lineX,B_lineY], xl:'RB in neighbor before', xly:201},
 {id:'C', box:[525.7,702.3,13.3,154], xr:[-3140,80950], yr:[-5.01,1.75], xt:[0,20000,40000,60000,80000], xd:0, yt:[1,0,-1,-2,-3,-4,-5], ms:6,
  pts: merge(cols(C_colX,C_colY,1000), pairs(C_extra,1000)), band:[C_lineX.map(sc),C_bandLo,C_bandHi], line:[C_lineX.map(sc),C_lineY], spline:true, xl:'Main road (m.)', xly:201},
 {id:'D', box:[52.3,228,220,365.3], xr:[-1822,62186], yr:[-5.06,1.65], xt:[0,20000,40000,60000], xd:0, yt:[1,0,-1,-2,-3,-4,-5], ms:6,
  pts: merge(cols(D_colX,D_colY,1000), pairs(D_extra,1000)), band:[D_bandX.map(sc),D_bandLo,D_bandHi], line:[D_lineX.map(sc),D_lineY], xl:'Secondary road (m.)', xly:408, yl:true},
 {id:'E', box:[288.3,466.3,220,365], xr:[2.682,5.457], yr:[-6.81,1.63], xt:[3.0,3.5,4.0,4.5,5.0], xd:1, yt:[0,-2,-4,-6], ms:6,
  pts: merge(cols(E_colX,E_colY), pairs(E_extra)), band:[E_bandX,E_bandLo,E_bandHi], line:[E_lineX,E_lineY], spline:true, xl:'Distance to border(log10)', xly:410},
 {id:'F', box:[525.7,701.7,220,364.3], xr:[0.052,2.627], yr:[-9.15,1.45], xt:[0.5,1.0,1.5,2.0,2.5], xd:1, yt:[0,-2,-4,-6,-8], ms:6,
  pts: cols(F_colX,F_colY), band:[F_bandX,F_bandLo,F_bandHi], line:[F_lineX,F_lineY], spline:true, xl:'OwnedDogDen(log10)', xly:410},
 {id:'G', box:[50,228.7,433.3,575.3], xr:[-0.188,4.618], yr:[-4.98,2.10], xt:[0,1,2,3,4], xd:0, yt:[2,1,0,-1,-2,-3,-4], ms:6,
  pts: cols(G_colX,G_colY), band:[G_bandX,G_bandLo,G_bandHi], line:[G_lineX,G_lineY], spline:true, xl:'HuPopDen(log10)', xly:619.5, yl:true},
 {id:'H', box:[288.3,466.3,433.3,575.3], xr:[-0.109,2.926], yr:[-7.07,1.09], xt:[0,0.5,1.0,1.5,2.0,2.5], xd:1, yt:[0,-2,-4,-6], ms:6,
  pts: cols(H_colX,H_colY), band:[H_bandX,H_bandLo,H_bandHi], line:[H_lineX,H_lineY], spline:true, xl:'CowDen(log10)', xly:619.5},
 {id:'I', box:[525.7,702.3,434.3,575], xr:[-3.47,8.29], yr:[-5.32,0.73], xt:[-2,0,2,4,6,8], xd:0, yt:[0,-1,-2,-3,-4,-5], ms:5,
  pts: cols(I_months,I_colY), band:[I_months,I_bandLo,I_bandHi], line:[I_months,I_lineY], spline:true, xl:'Month', xly:619.5}
];

const fmt = (v,d) => { const s = d ? v.toFixed(d) : String(v); return s.replace('-', '\u2212'); };
const traces = [];
const layout = {width:W, height:H, margin:{l:0,r:0,t:0,b:0}, paper_bgcolor:'#fff', plot_bgcolor:'#fff',
  showlegend:false, hovermode:false, annotations:[]};
const common = {showline:true, mirror:true, linecolor:'#000', linewidth:1, ticks:'outside', ticklen:7, tickwidth:1,
  tickcolor:'#000', showgrid:false, zeroline:false, fixedrange:true, tickfont:{family:FONT, size:10.5, color:'#000'}};

panels.forEach((p,i)=>{
  const n = i+1, sx = n===1?'':String(n);
  const xa='x'+sx, ya='y'+sx;
  const [x0,x1,y0,y1] = p.box;
  layout['xaxis'+sx] = Object.assign({}, common, {domain:[x0/W, x1/W], range:p.xr, anchor:ya,
     tickmode:'array', tickvals:p.xt, ticktext:p.xt.map(v=>fmt(v,p.xd)), ticklabelstandoff:4, ticklabeloverflow:'allow'});
  layout['yaxis'+sx] = Object.assign({}, common, {domain:[1-y1/H, 1-y0/H], range:p.yr, anchor:xa,
     tickmode:'array', tickvals:p.yt, ticktext:p.yt.map(v=>fmt(v,0)), ticklabelstandoff:3});
  traces.push({type:'scatter', mode:'markers', x:p.pts[0], y:p.pts[1], xaxis:xa, yaxis:ya,
     marker:{color:PT, size:p.ms, line:{width:0}}, cliponaxis:true});
  const [bx,lo,hi] = p.band;
  traces.push({type:'scatter', mode:'lines', x:bx.concat(bx.slice().reverse()), y:hi.concat(lo.slice().reverse()),
     xaxis:xa, yaxis:ya, fill:'toself', fillcolor:BAND, line:{width:0, color:BAND}});
  traces.push({type:'scatter', mode:'lines', x:p.line[0], y:p.line[1], xaxis:xa, yaxis:ya,
     line:{color:LINE, width:4, shape:p.spline?'spline':'linear', smoothing:0.8}});
  const cx = (x0+x1)/2;
  layout.annotations.push({text:'<b>'+p.id+'</b>', xref:'paper', yref:'paper', x:cx/W, y:1-(y0-7)/H,
     xanchor:'center', yanchor:'middle', showarrow:false, font:{family:FONT, size:12.5, color:'#000'}});
  layout.annotations.push({text:p.xl, xref:'paper', yref:'paper', x:cx/W, y:1-p.xly/H,
     xanchor:'center', yanchor:'middle', showarrow:false, font:{family:FONT, size:11, color:'#000'}});
  if (p.yl) layout.annotations.push({text:'Fitted function', xref:'paper', yref:'paper', x:13/W, y:1-((y0+y1)/2)/H,
     xanchor:'center', yanchor:'middle', textangle:-90, showarrow:false, font:{family:FONT, size:11, color:'#000'}});
});

Plotly.newPlot('g', traces, layout, {staticPlot:true, displayModeBar:false});
</script></body></html>
